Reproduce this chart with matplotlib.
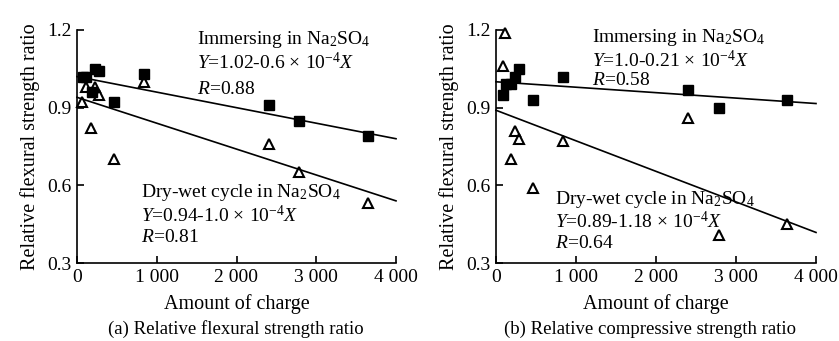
import matplotlib
matplotlib.use('Agg')
import matplotlib.pyplot as plt
import numpy as np

plt.rcParams['font.family'] = ['Liberation Serif', 'DejaVu Serif']
plt.rcParams['mathtext.fontset'] = 'custom'
plt.rcParams['mathtext.rm'] = 'Liberation Serif'
plt.rcParams['mathtext.it'] = 'Liberation Serif:italic'

# (a) flexural strength ratio
charge_a_imm = [72, 115, 184, 226, 280, 462, 840, 2410, 2787, 3643]
flex_imm = [1.02, 1.02, 0.96, 1.05, 1.04, 0.92, 1.03, 0.91, 0.85, 0.79]
charge_a_dw = [58, 108, 180, 226, 278, 462, 840, 2410, 2787, 3643]
flex_dw = [0.92, 0.98, 0.82, 0.98, 0.95, 0.70, 1.00, 0.76, 0.65, 0.53]

# (b) compressive strength ratio
charge_b_imm = [84, 125, 184, 237, 283, 467, 842, 2404, 2787, 3634]
comp_imm = [0.95, 0.99, 0.99, 1.02, 1.05, 0.93, 1.02, 0.97, 0.90, 0.93]
charge_b_dw = [84, 112, 184, 237, 283, 467, 842, 2404, 2787, 3634]
comp_dw = [1.06, 1.19, 0.70, 0.81, 0.78, 0.59, 0.77, 0.86, 0.41, 0.45]

# fitted lines: intercept, slope
fit_a_imm = (1.02, -0.6e-4)
fit_a_dw = (0.94, -1.0e-4)
fit_b_imm = (1.0, -0.21e-4)
fit_b_dw = (0.89, -1.18e-4)

xticks = [0, 1000, 2000, 3000, 4000]
xticklabels = ['0', '1 000', '2 000', '3 000', '4 000']
yticks = [0.3, 0.6, 0.9, 1.2]

fig = plt.figure(figsize=(8.39, 3.41), dpi=100)
ax1 = fig.add_axes([77/839, 78/341, 319/839, 233/341])
ax2 = fig.add_axes([496/839, 78/341, 320/839, 233/341])

fs = 14


def draw_panel(ax, x_imm, y_imm, x_dw, y_dw, fit_imm, fit_dw):
    xs = np.array([0, 4000])
    ax.plot(xs, fit_imm[0] + fit_imm[1] * xs, color='black', lw=1.2, clip_on=False)
    ax.plot(xs, fit_dw[0] + fit_dw[1] * xs, color='black', lw=1.2, clip_on=False)
    ax.plot(x_imm, y_imm, 's', color='black', ms=6.5, clip_on=False, zorder=3)
    ax.plot(x_dw, y_dw, '^', mfc='none', mec='black', mew=1.5, ms=7,
            clip_on=False, zorder=3)
    ax.set_xlim(0, 4000)
    ax.set_ylim(0.3, 1.2)
    ax.set_xticks(xticks)
    ax.set_xticklabels(xticklabels)
    ax.set_yticks(yticks)
    ax.set_yticklabels(['%.1f' % v for v in yticks])
    ax.spines['top'].set_visible(False)
    ax.spines['right'].set_visible(False)
    for s in ['left', 'bottom']:
        ax.spines[s].set_linewidth(1.2)
    ax.tick_params(direction='in', length=5, width=1.2, labelsize=fs, pad=4)
    ax.set_xlabel('Amount of charge', fontsize=14.5, labelpad=6)
    ax.set_ylabel('Relative flexural strength ratio', fontsize=14.5, labelpad=5)


draw_panel(ax1, charge_a_imm, flex_imm, charge_a_dw, flex_dw, fit_a_imm, fit_a_dw)
draw_panel(ax2, charge_b_imm, comp_imm, charge_b_dw, comp_dw, fit_b_imm, fit_b_dw)

# annotations (panel a)
kw = dict(fontsize=fs, va='baseline', ha='left')
times = r'$\,\times\,$'
ax1.text(1500, 1.2 - 14/259, 'Immersing in Na$_2$SO$_4$', **kw)
ax1.text(1500, 1.2 - 39/259, r'$Y$=1.02-0.6' + times + r'10$^{-4}$$X$', **kw)
ax1.text(1500, 1.2 - 64/259, r'$R$=0.88', **kw)
ax1.text(800, 1.2 - 167/259, 'Dry-wet cycle in Na$_2$SO$_4$', **kw)
ax1.text(800, 1.2 - 192/259, r'$Y$=0.94-1.0' + times + r'10$^{-4}$$X$', **kw)
ax1.text(800, 1.2 - 212/259, r'$R$=0.81', **kw)

# annotations (panel b)
ax2.text(1195, 1.2 - 12/259, 'Immersing in Na$_2$SO$_4$', **kw)
ax2.text(1195, 1.2 - 37/259, r'$Y$=1.0-0.21' + times + r'10$^{-4}$$X$', **kw)
ax2.text(1195, 1.2 - 55/259, r'$R$=0.58', **kw)
ax2.text(735, 1.2 - 174/259, 'Dry-wet cycle in Na$_2$SO$_4$', **kw)
ax2.text(735, 1.2 - 198/259, r'$Y$=0.89-1.18' + times + r'10$^{-4}$$X$', **kw)
ax2.text(735, 1.2 - 218/259, r'$R$=0.64', **kw)

fig.text(236/839, 1 - 329/341, '(a) Relative flexural strength ratio',
         ha='center', va='center', fontsize=13.5)
fig.text(650/839, 1 - 329/341, '(b) Relative compressive strength ratio',
         ha='center', va='center', fontsize=13.5)

fig.savefig('out.png', dpi=100)
